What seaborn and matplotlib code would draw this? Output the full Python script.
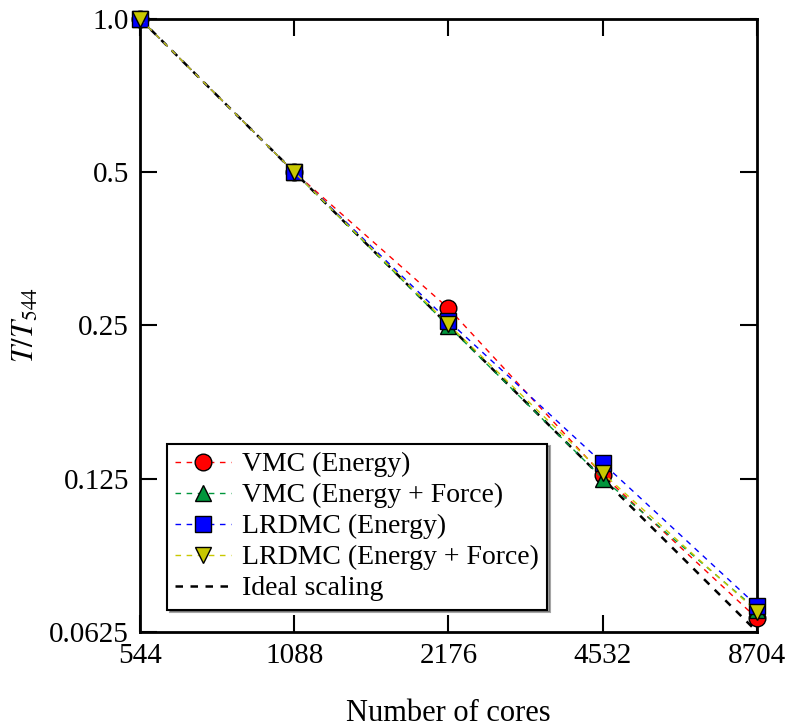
import numpy as np
import pandas as pd
import matplotlib
matplotlib.use("Agg")
import matplotlib.pyplot as plt
import seaborn as sns

# number of cores (the 4th tick is labelled 4532 in the original figure)
cores = [544, 1088, 2176, 4352, 8704]
core_labels = ["544", "1088", "2176", "4532", "8704"]

# T / T_544
vmc_energy = [1.0, 0.5, 0.270, 0.127, 0.0664]
vmc_energy_force = [1.0, 0.5, 0.249, 0.125, 0.0690]
lrdmc_energy = [1.0, 0.5, 0.255, 0.134, 0.0703]
lrdmc_energy_force = [1.0, 0.5, 0.251, 0.128, 0.0685]
ideal = [1.0, 0.5, 0.25, 0.125, 0.0625]

y_ticks = [0.0625, 0.125, 0.25, 0.5, 1.0]
y_labels = ["0.0625", "0.125", "0.25", "0.5", "1.0"]

series = [
    ("VMC (Energy)", vmc_energy, "#ff0000", "o"),
    ("VMC (Energy + Force)", vmc_energy_force, "#00963c", "^"),
    ("LRDMC (Energy)", lrdmc_energy, "#0000ff", "s"),
    ("LRDMC (Energy + Force)", lrdmc_energy_force, "#c8c800", "v"),
]

sns.set_theme(style="ticks")
plt.rcParams["font.family"] = ["Liberation Serif", "DejaVu Serif"]
plt.rcParams["mathtext.fontset"] = "stix"
plt.rcParams["text.color"] = "black"
plt.rcParams["axes.labelcolor"] = "black"
plt.rcParams["xtick.color"] = "black"
plt.rcParams["ytick.color"] = "black"

fig = plt.figure(figsize=(7.91, 7.27), dpi=100)
ax = fig.add_axes([0.177, 0.131, 0.780, 0.843])

# ideal scaling behind the markers
sns.lineplot(x=cores, y=ideal, ax=ax, color="black", linestyle=(0, (3, 3)),
             linewidth=1.8, label="Ideal scaling", zorder=1)

for name, vals, col, mk in series:
    sns.lineplot(x=cores, y=vals, ax=ax, color=col, linestyle=(0, (4, 4)),
                 linewidth=1.0, marker=mk, markersize=12, markeredgecolor="black",
                 markeredgewidth=1.0, label=name, clip_on=False, zorder=3)

ax.set_xscale("log", base=2)
ax.set_yscale("log", base=2)
ax.set_xlim(544, 8704)
ax.set_ylim(0.0625, 1.0)
ax.set_xticks(cores)
ax.set_xticklabels(core_labels)
ax.set_yticks(y_ticks)
ax.set_yticklabels(y_labels)
ax.minorticks_off()

ax.tick_params(direction="in", length=12, width=1.5, labelsize=21,
               top=True, right=True, pad=8, colors="black")
for sp in ax.spines.values():
    sp.set_linewidth(2)
    sp.set_color("black")

ax.set_xlabel("Number of cores", fontsize=22, labelpad=22)
ax.set_ylabel(r"$T/T_{544}$", fontsize=22, labelpad=6)

handles, labels = ax.get_legend_handles_labels()
order = [1, 2, 3, 4, 0]
leg = ax.legend([handles[i] for i in order], [labels[i] for i in order],
                loc="lower left", bbox_to_anchor=(0.044, 0.036), borderaxespad=0,
                fontsize=20, frameon=True, fancybox=False, shadow=True,
                edgecolor="black", handlelength=2.0, handletextpad=0.4,
                labelspacing=0.2, borderpad=0.3)
leg.get_frame().set_linewidth(1.5)
leg.get_frame().set_alpha(1)

fig.savefig("out.png", dpi=100)
